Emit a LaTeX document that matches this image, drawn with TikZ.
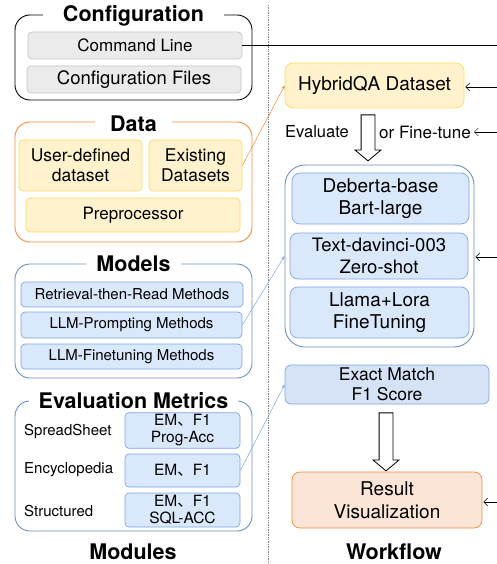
\documentclass[tikz,border=0pt]{standalone}
\usepackage{fontspec}
\setmainfont{TeX Gyre Heros}
\newfontfamily\cjk{Noto Sans CJK SC}
\usetikzlibrary{shapes,shapes.arrows,arrows.meta,calc}
\definecolor{cfgfill}{HTML}{EBEBEB}
\definecolor{cfgline}{HTML}{C4C4C4}
\definecolor{datafill}{HTML}{FFF2CC}
\definecolor{dataline}{HTML}{FFD966}
\definecolor{dataedge}{HTML}{F08A3E}
\definecolor{mdlfill}{HTML}{DAE8FC}
\definecolor{mdlline}{HTML}{7EA6E0}
\definecolor{mdledge}{HTML}{6C8EBF}
\definecolor{scorefill}{HTML}{D6E2F6}
\definecolor{resfill}{HTML}{FBE5D6}

\begin{document}
\begin{tikzpicture}
	[x=1pt,y=-1pt,
	box/.style={shape=rectangle,draw,rounded corners=4pt,line width=0.7pt,inner sep=2pt,align=center},
	grp/.style={shape=rectangle,draw,rounded corners=15pt,line width=0.9pt},
	title/.style={fill=white,inner xsep=10pt,inner ysep=0pt,font=\bfseries\fontsize{21.5}{24}\selectfont},
	graybox/.style={box,fill=cfgfill,draw=cfgline},
	yellowbox/.style={box,fill=datafill,draw=dataline},
	bluebox/.style={box,fill=mdlfill,draw=mdlline},
	link/.style={line width=0.5pt,-{Stealth[length=4pt,width=3pt]}},
	feed/.style={line width=0.5pt,-{Straight Barb[length=4pt,width=8pt]}},
	bigarrow/.style={shape=single arrow,draw,line width=0.8pt,rotate=-90,inner xsep=0pt,inner ysep=6.5pt,
		single arrow head extend=6pt,single arrow tip angle=100}]
	\useasboundingbox (0,0) rectangle (497,564);
	
	% modules
	\node[grp] (cfg) at (133.5,57.5) [minimum width=237pt,minimum height=85pt] {};
	\node[title,inner xsep=20pt] at (133.5,16) {Configuration};
	\node[graybox,minimum width=214pt,minimum height=27pt,font=\fontsize{17}{20}\selectfont] (cmd) at (135,45.5) {Command Line};
	\node[graybox,minimum width=214pt,minimum height=27pt,font=\fontsize{18.5}{21}\selectfont] (cfgf) at (134,79.5) {Configuration Files};
	
	\node[grp,draw=dataedge] (data) at (133.5,182) [minimum width=237pt,minimum height=120pt] {};
	\node[title,inner xsep=15pt] at (133.5,124) {Data};
	\node[yellowbox,minimum width=123pt,minimum height=51pt,font=\fontsize{17.5}{20}\selectfont] (udd) at (80.5,165.5) {User-defined\\dataset};
	\node[yellowbox,minimum width=93pt,minimum height=51pt,font=\fontsize{17.5}{20}\selectfont] (exds) at (195.5,165.5) {Existing\\Datasets};
	\node[yellowbox,minimum width=214pt,minimum height=34pt,font=\fontsize{17}{20}\selectfont] (prep) at (133,215) {Preprocessor};
	
	\node[grp,draw=mdledge] (mods) at (133.5,321) [minimum width=237pt,minimum height=114pt] {};
	\node[title] at (133.5,264) {Models};
	\node[bluebox,minimum width=222pt,minimum height=25pt,font=\fontsize{15}{18}\selectfont] (rtr) at (132,294.5) {Retrieval-then-Read Methods};
	\node[bluebox,minimum width=221pt,minimum height=26pt,font=\fontsize{15}{18}\selectfont] (llmp) at (131.5,325) {LLM-Prompting Methods};
	\node[bluebox,minimum width=221pt,minimum height=25pt,font=\fontsize{15}{18}\selectfont] (llmf) at (131.5,356.5) {LLM-Finetuning Methods};
	
	\node[grp,draw=mdledge] (evm) at (133.5,466) [minimum width=237pt,minimum height=130pt] {};
	\node[title] at (133.5,401) {Evaluation Metrics};
	\node[anchor=west,inner sep=0pt,font=\fontsize{15}{18}\selectfont] (sps) at (24,432) {SpreadSheet};
	\node[anchor=west,inner sep=0pt,font=\fontsize{15}{18}\selectfont] (enc) at (24,470) {Encyclopedia};
	\node[anchor=west,inner sep=0pt,font=\fontsize{15}{18}\selectfont] (str) at (24,511) {Structured};
	\node[bluebox,minimum width=115pt,minimum height=35pt,font=\fontsize{15.5}{17}\selectfont] (em1) at (182.5,430.5) {EM{\cjk 、}F1\\Prog-Acc};
	\node[bluebox,minimum width=115pt,minimum height=33pt,font=\fontsize{15.5}{17}\selectfont] (em2) at (182.5,470.5) {EM{\cjk 、}F1};
	\node[bluebox,minimum width=115pt,minimum height=34pt,font=\fontsize{15.5}{17}\selectfont] (em3) at (182.5,510) {EM{\cjk 、}F1\\SQL-ACC};
	\node[title,fill=none] at (133,552) {Modules};
	
	\draw[gray,densely dotted,line width=0.7pt] (268,5) -- (268,564);
	
	% workflow
	\node[yellowbox,rounded corners=8pt,minimum width=179pt,minimum height=45pt,font=\fontsize{19}{22}\selectfont] (hqa) at (374.5,85.5) {HybridQA Dataset};
	\node[font=\fontsize{16.5}{20}\selectfont,inner sep=2pt] (evl) at (317,132) {Evaluate};
	\node[font=\fontsize{17}{20}\selectfont,inner sep=2pt] (ft) at (425,132) {or Fine-tune};
	\node[bigarrow,minimum height=46pt] (a1) at (368,135) {};
	\node[grp,draw=mdledge,rounded corners=20pt,minimum width=189pt,minimum height=182pt] (mdl) at (379.5,256) {};
	\node[bluebox,rounded corners=8pt,minimum width=177pt,minimum height=51pt,font=\fontsize{19}{22}\selectfont] (deb) at (380.5,198.5) {Deberta-base\\Bart-large};
	\node[bluebox,rounded corners=8pt,minimum width=178pt,minimum height=46pt,font=\fontsize{18.5}{22}\selectfont] (txd) at (379,256) {Text-davinci-003\\Zero-shot};
	\node[bluebox,rounded corners=8pt,minimum width=179pt,minimum height=51pt,font=\fontsize{19}{22}\selectfont] (lla) at (379.5,312.5) {Llama+Lora\\FineTuning};
	\node[bluebox,rounded corners=6pt,fill=scorefill,minimum width=204pt,minimum height=39pt,font=\fontsize{17.5}{20}\selectfont] (exm) at (387,384.5) {Exact Match\\F1 Score};
	\node[bigarrow,minimum height=58pt] (a2) at (386,439) {};
	\node[box,fill=resfill,draw=dataedge,rounded corners=8pt,minimum width=190pt,minimum height=56pt,font=\fontsize{19}{23}\selectfont] (res) at (387,500) {Result\\Visualization};
	\node[title,fill=none] at (394,552) {Workflow};
	
	\coordinate (r0) at (497,45.5);
	\coordinate (r1) at (497,87);
	\coordinate (r2) at (497,132);
	\coordinate (r3) at (497,257);
	\coordinate (r4) at (497,502);
	\draw[line width=0.6pt] (cmd.east) -- (r0);
	\path
	\foreach \startNode/\endNode in {r1/hqa,r2/ft,r3/mdl,r4/res}
	{
		(\startNode) edge[feed,shorten >=1pt] (\endNode.east |- \startNode)
	};
	\draw[link,dataedge] (exds.east) -- (hqa.west);
	\path
	\foreach \startNode/\endNode in {llmp/mdl,em2/exm}
	{
		(\startNode.east) edge[link,mdlline] (\endNode.west)
	};
\end{tikzpicture}
\end{document}
